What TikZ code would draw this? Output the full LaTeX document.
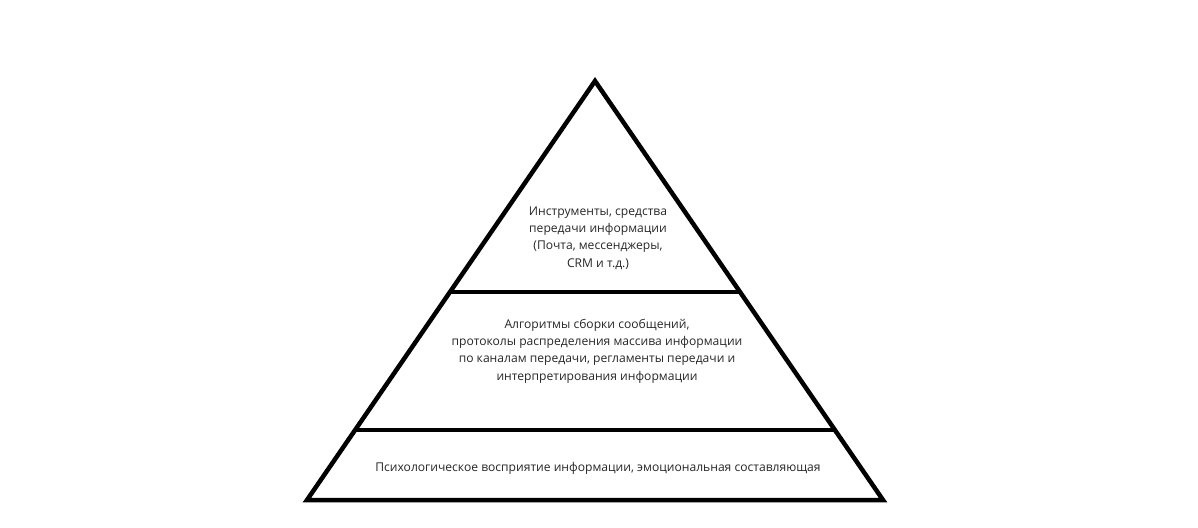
\documentclass[tikz,border=0pt]{standalone}
\usepackage{fontspec}
\setmainfont{Open Sans}
\usetikzlibrary{calc}
\begin{document}
\begin{tikzpicture}[x=1pt,y=-1pt,
  edge/.style={draw=black,line width=4.5pt,line join=miter},
  tier/.style={line width=4.5pt,draw=black},
  lbl/.style={text=black!85,font=\fontsize{12.1}{17.3}\selectfont,align=center,inner sep=0pt}]
\useasboundingbox (0,0) rectangle (1198,527);
\coordinate (A) at (595,81);
\coordinate (B) at (307,500);
\coordinate (C) at (883,500);
\draw[edge] (A) -- (B) -- (C) -- cycle;
\coordinate (L1) at ($(A)!0.5036!(B)$);
\coordinate (R1) at ($(A)!0.5036!(C)$);
\coordinate (L2) at ($(A)!0.833!(B)$);
\coordinate (R2) at ($(A)!0.833!(C)$);
\draw[tier] (L1) -- (R1);
\draw[tier] (L2) -- (R2);
\node[lbl] (t1) at (598,238) {Инструменты, средства\\передачи информации\\(Почта, мессенджеры,\\CRM и т.д.)};
\node[lbl] (t2) at (597,351) {Алгоритмы сборки сообщений,\\протоколы распределения массива информации\\по каналам передачи, регламенты передачи и\\интерпретирования информации};
\node[lbl] (t3) at (598,468) {Психологическое восприятие информации, эмоциональная составляющая};
\end{tikzpicture}
\end{document}
